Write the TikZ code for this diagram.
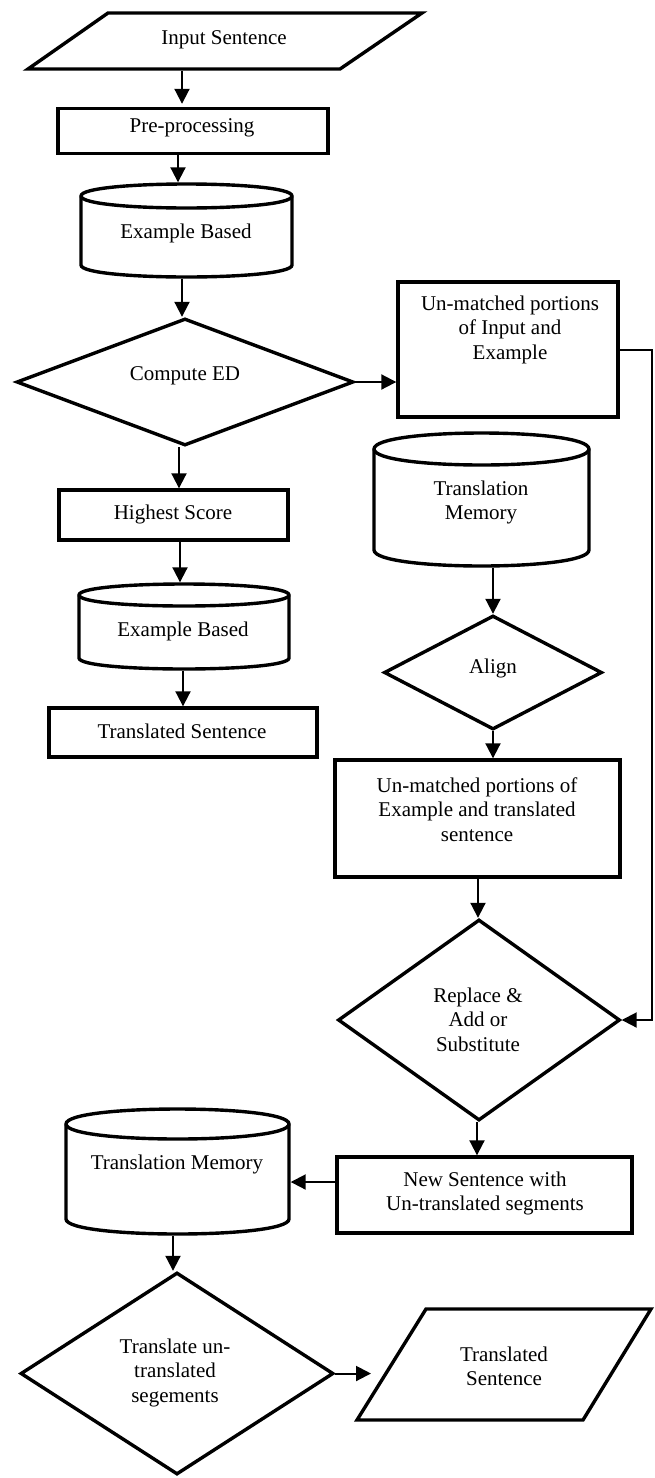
\documentclass[tikz,border=0pt]{standalone}
\usepackage{fontspec}
\setmainfont{Liberation Serif}
\usetikzlibrary{shapes.geometric,arrows.meta}
\newcommand\mycyl[5]{%
  \pgfmathsetmacro\ca{#3+#5}%
  \pgfmathsetmacro\cb{#4-#5}%
  \pgfmathsetmacro\cu{#3+#5-4/3*#5}%
  \pgfmathsetmacro\cd{#3+#5+4/3*#5}%
  \pgfmathsetmacro\ce{#4-#5+4/3*#5}%
  \draw[shp] (#1,\ca) -- (#1,\cb) .. controls (#1,\ce) and (#2,\ce) .. (#2,\cb) -- (#2,\ca) .. controls (#2,\cu) and (#1,\cu) .. (#1,\ca) -- cycle;
  \draw[shp, fill=none] (#1,\ca) .. controls (#1,\cd) and (#2,\cd) .. (#2,\ca);
}
\begin{document}
\begin{tikzpicture}[x=1pt,y=-1pt,
  shp/.style={draw, line width=3.4pt, fill=white, inner sep=0pt, line join=miter},
  rbox/.style n args={2}{shp, rectangle, minimum width=#1, minimum height=#2},
  dia/.style n args={2}{shp, diamond, minimum width=#1, minimum height=#2},
  ghost/.style n args={2}{inner sep=0pt, outer sep=1.7pt, minimum width=#1, minimum height=#2},
  txt/.style={font=\fontsize{21}{24.5}\selectfont, align=center, inner sep=0pt},
  conn/.style={line width=2pt, -{Triangle[length=15pt,width=15pt]}}]
\fill[white] (0,0) rectangle (654,1478);
\useasboundingbox (0,0) rectangle (654,1478);

% x positions of vertical connectors
\coordinate (k182) at (182,0);
\coordinate (k178) at (178,0);
\coordinate (k179) at (179,0);
\coordinate (k180) at (180,0);
\coordinate (k183) at (183,0);
\coordinate (k493) at (493,0);
\coordinate (k478) at (478,0);
\coordinate (k477) at (477,0);
\coordinate (k173) at (173,0);
\coordinate (y1182) at (0,1182);
\coordinate (rline) at (652,349.5);
\coordinate (oute) at (371,1370);

% Input Sentence
\draw[shp] (108,13) -- (422,13) -- (340,69) -- (28,69) -- cycle;
\node[ghost={395pt}{56pt}] (inp) at (225.5,41) {};
\node[txt] (inpt) at (224,39.5) {Input Sentence};

% Pre-processing
\node[rbox={270pt}{45pt}] (pre) at (193,131) {};
\node[txt] (pret) at (192,127.5) {Pre-processing};

% Example Based (1)
\mycyl{81}{292}{184}{277}{12}
\node[ghost={211pt}{93pt}] (c1) at (186.5,230.5) {};
\node[txt] (c1t) at (186,233.5) {Example Based};

% Compute ED
\node[dia={337pt}{127pt}] (ced) at (185,382) {};
\node[txt] (cedt) at (185,375.5) {Compute ED};

% Un-matched (1)
\node[rbox={220pt}{135pt}] (u1) at (508,349.5) {};
\node[txt] (u1t) at (510,329.5) {Un-matched portions\\of Input and\\Example};

% Highest Score
\node[rbox={229pt}{50pt}] (hs) at (173.5,515) {};
\node[txt] (hst) at (173,514.5) {Highest Score};

% Translation Memory (right)
\mycyl{374}{589}{433}{566}{16}
\node[ghost={215pt}{133pt}] (c2) at (481.5,499.5) {};
\node[txt] (c2t) at (481,502.5) {Translation\\Memory};

% Example Based (2)
\mycyl{79}{289}{584}{669}{11}
\node[ghost={210pt}{85pt}] (c3) at (184,626.5) {};
\node[txt] (c3t) at (183,631.5) {Example Based};

% Translated Sentence box
\node[rbox={268pt}{49pt}] (ts) at (183,732.5) {};
\node[txt] (tst) at (182,731.5) {Translated Sentence};

% Align
\node[dia={218pt}{114pt}] (al) at (493,672.5) {};
\node[txt] (alt) at (493,668.5) {Align};

% Un-matched (2)
\node[rbox={285pt}{117pt}] (u2) at (477.5,818.5) {};
\node[txt] (u2t) at (477,809.5) {Un-matched portions of\\Example and translated\\sentence};

% Replace
\node[dia={282pt}{201pt}] (rep) at (479,1020) {};
\node[txt] (rept) at (478,1019.5) {Replace \&\\Add or\\Substitute};

% New Sentence
\node[rbox={295pt}{76pt}] (ns) at (484.5,1195) {};
\node[txt] (nst) at (485,1193.5) {New Sentence with\\Un-translated segments};

% Translation Memory (left)
\mycyl{66}{289}{1109}{1234}{15}
\node[ghost={223pt}{125pt}] (c4) at (177.5,1171.5) {};
\node[txt] (c4t) at (177,1164.5) {Translation Memory};

% Translate
\node[dia={313pt}{202pt}] (tr) at (177,1373.5) {};
\node[txt] (trt) at (175,1372.5) {Translate un-\\translated\\segements};

% Translated Sentence (output)
\draw[shp] (426,1309) -- (651,1309) -- (583,1420) -- (357,1420) -- cycle;
\node[ghost={294pt}{111pt}] (outp) at (504,1364.5) {};
\node[txt] (outt) at (504,1366.5) {Translated\\Sentence};

% connectors
\draw[conn, shorten >=3pt] (inp.south -| k182) -- (pre.north -| k182);
\draw[conn] (pre.south -| k178) -- (c1.north -| k178);
\draw[conn] (c1.south -| k182) -- (ced.north -| k182);
\draw[conn] (ced.east) -- (ced.east -| u1.west);
\draw[conn] (u1.east) -- (rline) |- (rep.east);
\draw[conn] (ced.south -| k179) -- (hs.north -| k179);
\draw[conn] (hs.south -| k180) -- (c3.north -| k180);
\draw[conn] (c3.south -| k183) -- (ts.north -| k183);
\draw[conn] (c2.south -| k493) -- (al.north -| k493);
\draw[conn] (al.south -| k493) -- (u2.north -| k493);
\draw[conn] (u2.south -| k478) -- (rep.north -| k478);
\draw[conn] (rep.south -| k477) -- (ns.north -| k477);
\draw[conn] (ns.west |- y1182) -- (c4.east |- y1182);
\draw[conn] (c4.south -| k173) -- (tr.north -| k173);
\draw[conn] (tr.east) -- (tr.east -| oute);
\end{tikzpicture}
\end{document}
